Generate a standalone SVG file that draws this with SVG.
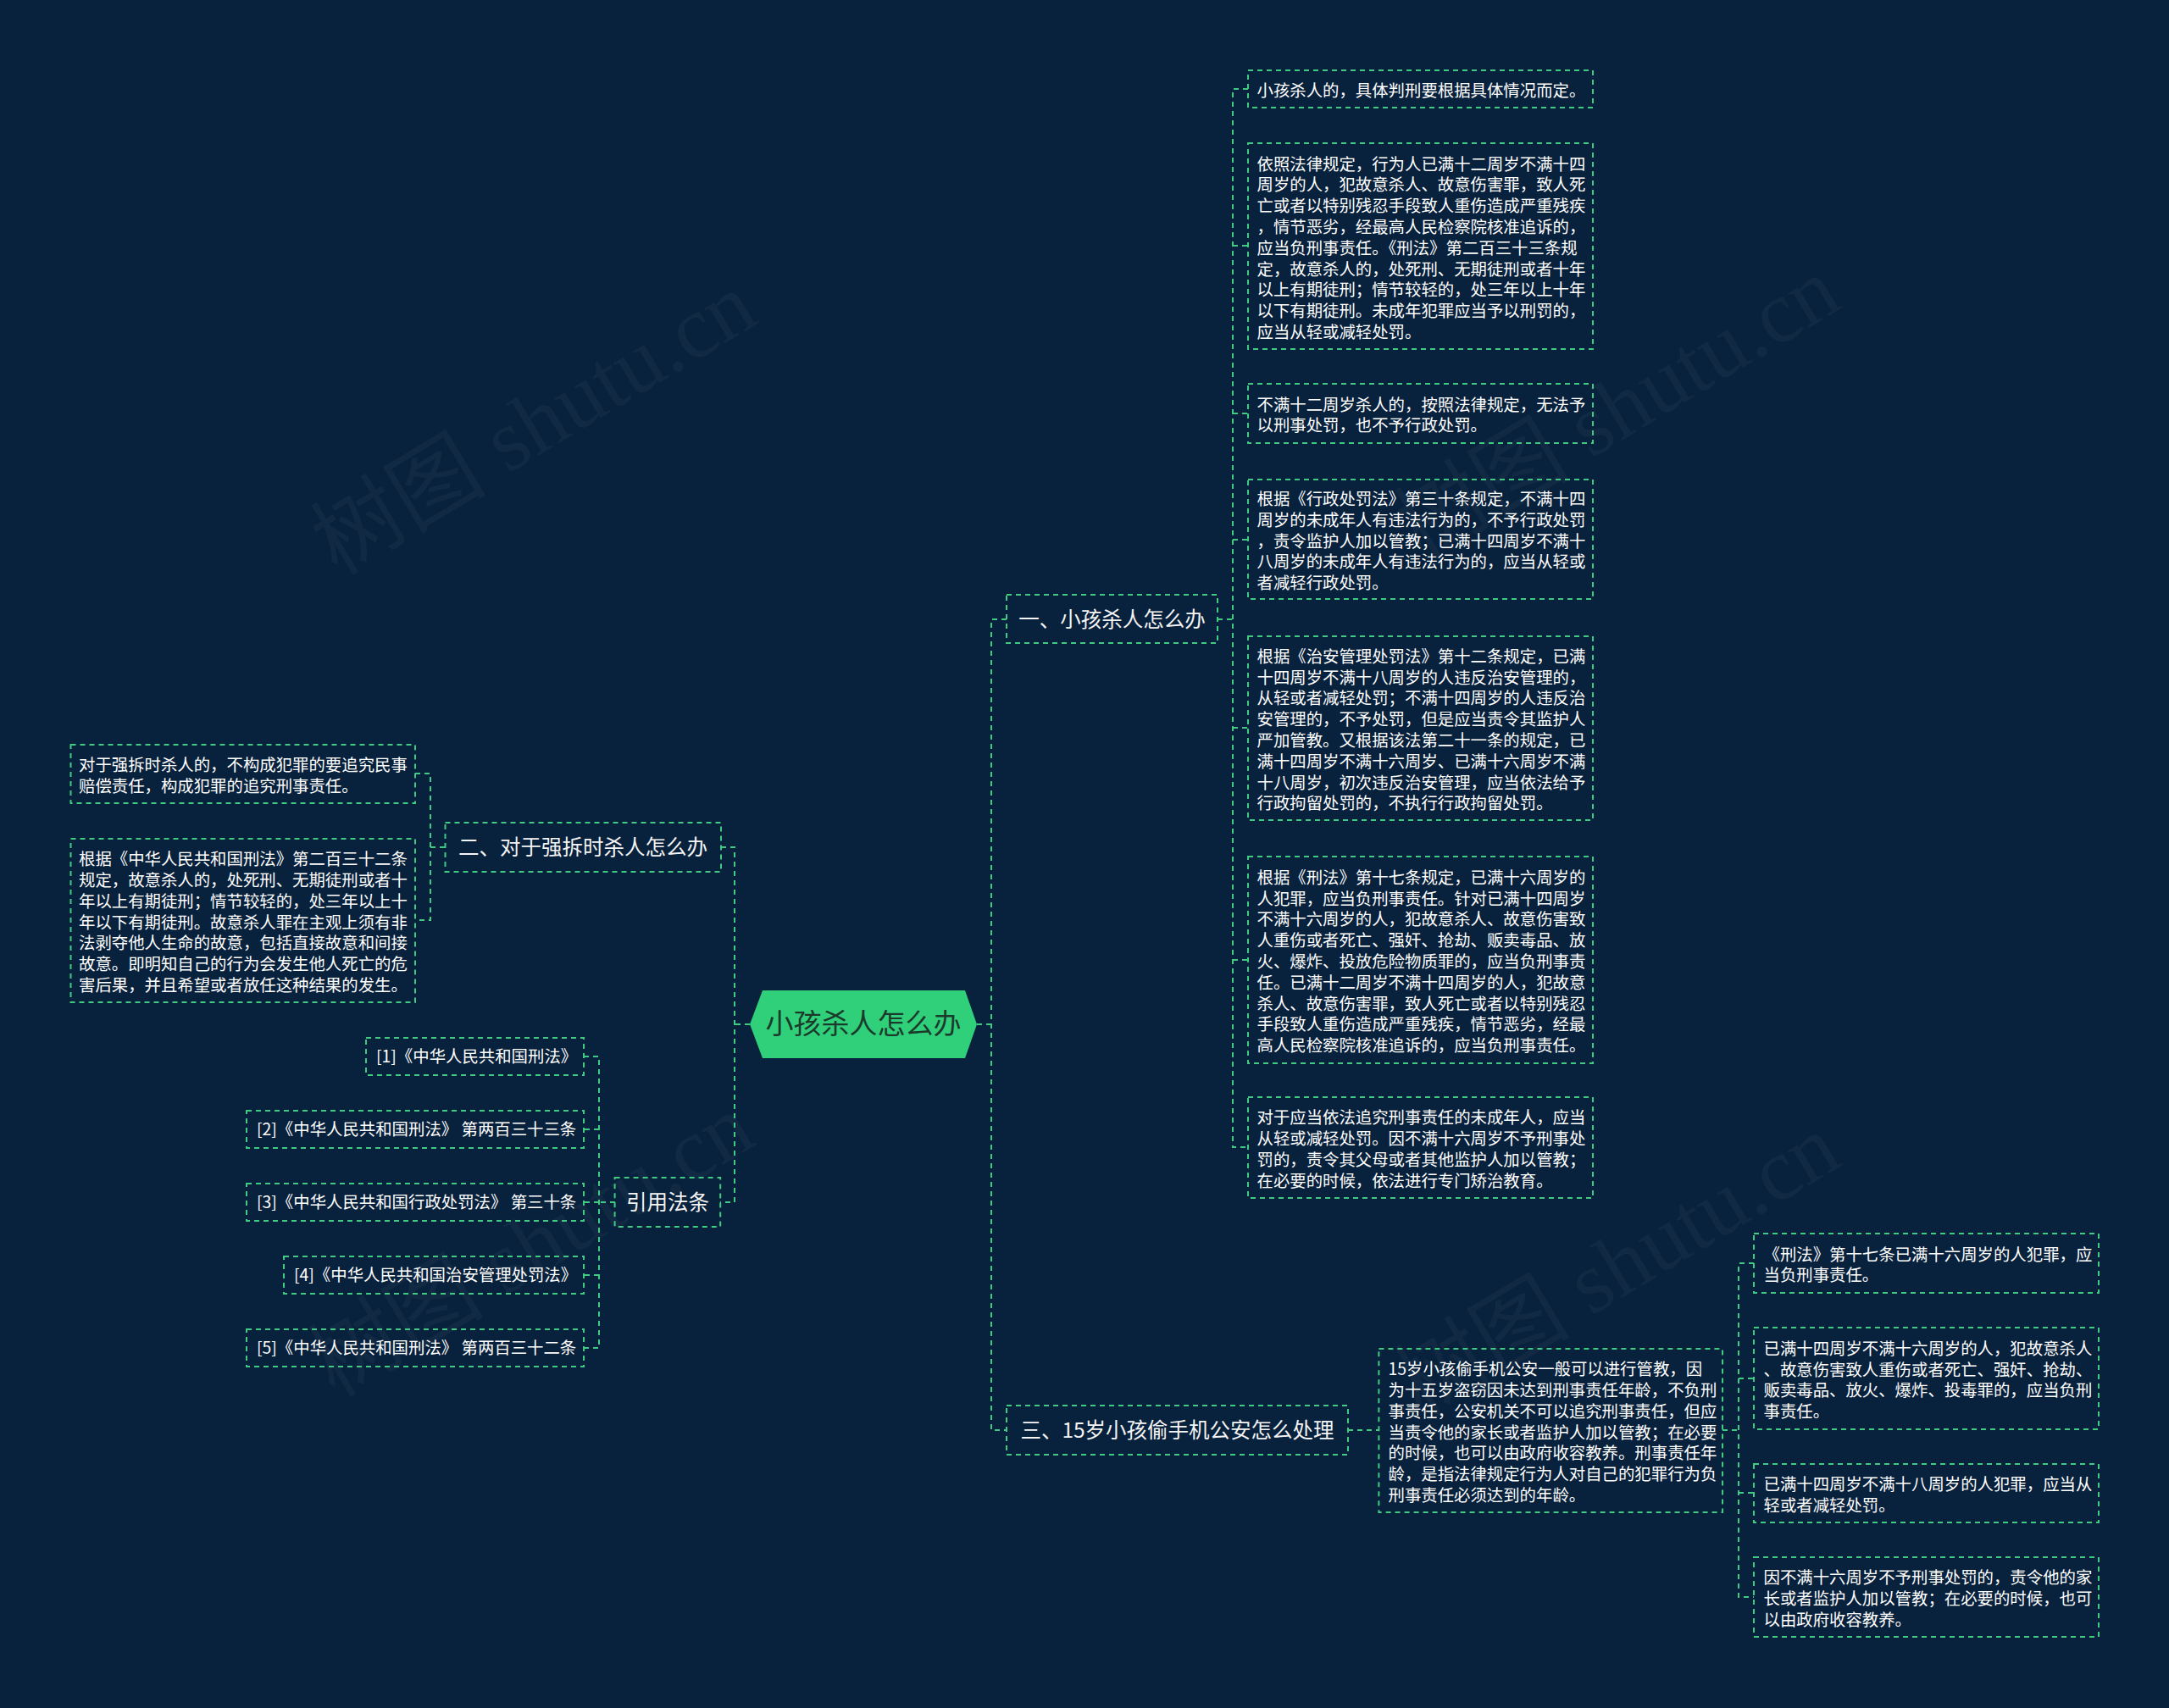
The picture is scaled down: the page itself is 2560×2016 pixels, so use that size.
<svg xmlns="http://www.w3.org/2000/svg" width="2560" height="2016" viewBox="0 0 2560 2016">
<defs>
<style>
.bg{fill:#08213c}
.box{fill:none;stroke:#3fcb82;stroke-width:2;stroke-dasharray:6 5}
.conn{fill:none;stroke:#3fcb82;stroke-width:2;stroke-dasharray:6 5}
.t{font-family:"Noto Sans CJK SC","Noto Sans",sans-serif;font-size:19.4px;fill:#ffffff}
.b{font-family:"Noto Sans CJK SC","Noto Sans",sans-serif;font-size:24.5px;fill:#f4f4f4;text-anchor:middle}
.c{font-family:"Noto Sans CJK SC","Noto Sans",sans-serif;font-size:33px;fill:#1b3a2b;text-anchor:middle}
.wm{font-family:"Liberation Serif","Noto Sans CJK SC",serif;font-size:104px;fill:#ffffff;fill-opacity:0.04}
</style>
</defs>
<rect class="bg" x="0" y="0" width="2560" height="2016"/>
<g id="watermarks">
<text class="wm" transform="translate(648,530) rotate(-31)" text-anchor="middle">树图 shutu.cn</text>
<text class="wm" transform="translate(1927,512) rotate(-31)" text-anchor="middle">树图 shutu.cn</text>
<text class="wm" transform="translate(645,1500) rotate(-31)" text-anchor="middle">树图 shutu.cn</text>
<text class="wm" transform="translate(1927,1524) rotate(-31)" text-anchor="middle">树图 shutu.cn</text>
</g>
<g id="connectors">
<path class="conn" d="M1153,1209 H1170 M1188,731 H1170 V1688 H1188"/>
<path class="conn" d="M885,1209 H867 M851,1000 H867 V1419 H850"/>
<path class="conn" d="M1437,731 H1455 M1473,105 H1455 V1354 H1473 M1455,290 H1473 M1455,488 H1473 M1455,637 H1473 M1455,859 H1473 M1455,1133 H1473"/>
<path class="conn" d="M525,1000 H508 M490,913 H508 V1086 H490"/>
<path class="conn" d="M726,1419 H707 M689,1247 H707 V1591 H689 M707,1333 H689 M707,1419 H689 M707,1505 H689"/>
<path class="conn" d="M1591,1688 H1627"/>
<path class="conn" d="M2033,1688 H2052 M2070,1491 H2052 V1885 H2070 M2052,1627 H2070 M2052,1762 H2070"/>
</g>
<g id="center">
<polygon points="885,1209 900,1169 1139,1169 1153,1209 1139,1249 900,1249" fill="#30d07b"/>
<text class="c" x="1019" y="1220">小孩杀人怎么办</text>
</g>
<g id="branch1">
<rect class="box" x="1188" y="702" width="249" height="57"/>
<text class="b" x="1312.5" y="739.5">一、小孩杀人怎么办</text>
</g>
<g id="branch2">
<rect class="box" x="525.5" y="971" width="325.5" height="58"/>
<text class="b" x="688" y="1008.5">二、对于强拆时杀人怎么办</text>
</g>
<g id="branch-cite">
<rect class="box" x="725.6" y="1390" width="124.6" height="58"/>
<text class="b" x="788" y="1427.5">引用法条</text>
</g>
<g id="branch3">
<rect class="box" x="1188" y="1659" width="403" height="58"/>
<text class="b" x="1389.5" y="1697">三、15岁小孩偷手机公安怎么处理</text>
</g>
<g id="leaf1-1">
<rect class="box" x="1473" y="83" width="407" height="44"/>
<text class="t" x="1483.5" y="114">小孩杀人的，具体判刑要根据具体情况而定。</text>
</g>
<g id="leaf1-2">
<rect class="box" x="1473" y="169" width="407" height="243"/>
<text class="t" x="1483.5" y="200.5">依照法律规定，行为人已满十二周岁不满十四<tspan x="1483.5" dy="24.8">周岁的人，犯故意杀人、故意伤害罪，致人死</tspan><tspan x="1483.5" dy="24.8">亡或者以特别残忍手段致人重伤造成严重残疾</tspan><tspan x="1483.5" dy="24.8">，情节恶劣，经最高人民检察院核准追诉的，</tspan><tspan x="1483.5" dy="24.8">应当负刑事责任。《刑法》第二百三十三条规</tspan><tspan x="1483.5" dy="24.8">定，故意杀人的，处死刑、无期徒刑或者十年</tspan><tspan x="1483.5" dy="24.8">以上有期徒刑；情节较轻的，处三年以上十年</tspan><tspan x="1483.5" dy="24.8">以下有期徒刑。未成年犯罪应当予以刑罚的，</tspan><tspan x="1483.5" dy="24.8">应当从轻或减轻处罚。</tspan></text>
</g>
<g id="leaf1-3">
<rect class="box" x="1473" y="453" width="407" height="70"/>
<text class="t" x="1483.5" y="484.6">不满十二周岁杀人的，按照法律规定，无法予<tspan x="1483.5" dy="24.8">以刑事处罚，也不予行政处罚。</tspan></text>
</g>
<g id="leaf1-4">
<rect class="box" x="1473" y="566" width="407" height="141"/>
<text class="t" x="1483.5" y="595.9">根据《行政处罚法》第三十条规定，不满十四<tspan x="1483.5" dy="24.8">周岁的未成年人有违法行为的，不予行政处罚</tspan><tspan x="1483.5" dy="24.8">，责令监护人加以管教；已满十四周岁不满十</tspan><tspan x="1483.5" dy="24.8">八周岁的未成年人有违法行为的，应当从轻或</tspan><tspan x="1483.5" dy="24.8">者减轻行政处罚。</tspan></text>
</g>
<g id="leaf1-5">
<rect class="box" x="1473" y="751" width="407" height="217"/>
<text class="t" x="1483.5" y="781.7">根据《治安管理处罚法》第十二条规定，已满<tspan x="1483.5" dy="24.8">十四周岁不满十八周岁的人违反治安管理的，</tspan><tspan x="1483.5" dy="24.8">从轻或者减轻处罚；不满十四周岁的人违反治</tspan><tspan x="1483.5" dy="24.8">安管理的，不予处罚，但是应当责令其监护人</tspan><tspan x="1483.5" dy="24.8">严加管教。又根据该法第二十一条的规定，已</tspan><tspan x="1483.5" dy="24.8">满十四周岁不满十六周岁、已满十六周岁不满</tspan><tspan x="1483.5" dy="24.8">十八周岁，初次违反治安管理，应当依法给予</tspan><tspan x="1483.5" dy="24.8">行政拘留处罚的，不执行行政拘留处罚。</tspan></text>
</g>
<g id="leaf1-6">
<rect class="box" x="1473" y="1011" width="407" height="244"/>
<text class="t" x="1483.5" y="1042.8">根据《刑法》第十七条规定，已满十六周岁的<tspan x="1483.5" dy="24.8">人犯罪，应当负刑事责任。针对已满十四周岁</tspan><tspan x="1483.5" dy="24.8">不满十六周岁的人，犯故意杀人、故意伤害致</tspan><tspan x="1483.5" dy="24.8">人重伤或者死亡、强奸、抢劫、贩卖毒品、放</tspan><tspan x="1483.5" dy="24.8">火、爆炸、投放危险物质罪的，应当负刑事责</tspan><tspan x="1483.5" dy="24.8">任。已满十二周岁不满十四周岁的人，犯故意</tspan><tspan x="1483.5" dy="24.8">杀人、故意伤害罪，致人死亡或者以特别残忍</tspan><tspan x="1483.5" dy="24.8">手段致人重伤造成严重残疾，情节恶劣，经最</tspan><tspan x="1483.5" dy="24.8">高人民检察院核准追诉的，应当负刑事责任。</tspan></text>
</g>
<g id="leaf1-7">
<rect class="box" x="1473" y="1295" width="407" height="119"/>
<text class="t" x="1483.5" y="1326.3">对于应当依法追究刑事责任的未成年人，应当<tspan x="1483.5" dy="24.8">从轻或减轻处罚。因不满十六周岁不予刑事处</tspan><tspan x="1483.5" dy="24.8">罚的，责令其父母或者其他监护人加以管教；</tspan><tspan x="1483.5" dy="24.8">在必要的时候，依法进行专门矫治教育。</tspan></text>
</g>
<g id="leaf2-1">
<rect class="box" x="83.5" y="879" width="406.5" height="69"/>
<text class="t" x="93" y="910.1">对于强拆时杀人的，不构成犯罪的要追究民事<tspan x="93" dy="24.8">赔偿责任，构成犯罪的追究刑事责任。</tspan></text>
</g>
<g id="leaf2-2">
<rect class="box" x="83.5" y="990" width="406.5" height="193"/>
<text class="t" x="93" y="1021.1">根据《中华人民共和国刑法》第二百三十二条<tspan x="93" dy="24.8">规定，故意杀人的，处死刑、无期徒刑或者十</tspan><tspan x="93" dy="24.8">年以上有期徒刑；情节较轻的，处三年以上十</tspan><tspan x="93" dy="24.8">年以下有期徒刑。故意杀人罪在主观上须有非</tspan><tspan x="93" dy="24.8">法剥夺他人生命的故意，包括直接故意和间接</tspan><tspan x="93" dy="24.8">故意。即明知自己的行为会发生他人死亡的危</tspan><tspan x="93" dy="24.8">害后果，并且希望或者放任这种结果的发生。</tspan></text>
</g>
<g id="cite1">
<rect class="box" x="432" y="1225" width="257" height="44"/>
<text class="t" x="444" y="1254">[1]《中华人民共和国刑法》</text>
</g>
<g id="cite2">
<rect class="box" x="291" y="1311" width="398" height="44"/>
<text class="t" x="303" y="1340">[2]《中华人民共和国刑法》 第两百三十三条</text>
</g>
<g id="cite3">
<rect class="box" x="291" y="1397" width="398" height="44"/>
<text class="t" x="303" y="1426">[3]《中华人民共和国行政处罚法》 第三十条</text>
</g>
<g id="cite4">
<rect class="box" x="335" y="1483" width="354" height="44"/>
<text class="t" x="347" y="1512">[4]《中华人民共和国治安管理处罚法》</text>
</g>
<g id="cite5">
<rect class="box" x="291" y="1569" width="398" height="44"/>
<text class="t" x="303" y="1598">[5]《中华人民共和国刑法》 第两百三十二条</text>
</g>
<g id="leaf3-main">
<rect class="box" x="1627.4" y="1592" width="405.6" height="193"/>
<text class="t" x="1638.5" y="1623.1">15岁小孩偷手机公安一般可以进行管教，因<tspan x="1638.5" dy="24.8">为十五岁盗窃因未达到刑事责任年龄，不负刑</tspan><tspan x="1638.5" dy="24.8">事责任，公安机关不可以追究刑事责任，但应</tspan><tspan x="1638.5" dy="24.8">当责令他的家长或者监护人加以管教；在必要</tspan><tspan x="1638.5" dy="24.8">的时候，也可以由政府收容教养。刑事责任年</tspan><tspan x="1638.5" dy="24.8">龄，是指法律规定行为人对自己的犯罪行为负</tspan><tspan x="1638.5" dy="24.8">刑事责任必须达到的年龄。</tspan></text>
</g>
<g id="leaf3-1">
<rect class="box" x="2070" y="1456" width="407" height="70"/>
<text class="t" x="2081.5" y="1487.6">《刑法》第十七条已满十六周岁的人犯罪，应<tspan x="2081.5" dy="24.8">当负刑事责任。</tspan></text>
</g>
<g id="leaf3-2">
<rect class="box" x="2070" y="1567" width="407" height="120"/>
<text class="t" x="2081.5" y="1598.8">已满十四周岁不满十六周岁的人，犯故意杀人<tspan x="2081.5" dy="24.8">、故意伤害致人重伤或者死亡、强奸、抢劫、</tspan><tspan x="2081.5" dy="24.8">贩卖毒品、放火、爆炸、投毒罪的，应当负刑</tspan><tspan x="2081.5" dy="24.8">事责任。</tspan></text>
</g>
<g id="leaf3-3">
<rect class="box" x="2070" y="1728" width="407" height="69"/>
<text class="t" x="2081.5" y="1759.4">已满十四周岁不满十八周岁的人犯罪，应当从<tspan x="2081.5" dy="24.8">轻或者减轻处罚。</tspan></text>
</g>
<g id="leaf3-4">
<rect class="box" x="2070" y="1838" width="407" height="94"/>
<text class="t" x="2081.5" y="1869.2">因不满十六周岁不予刑事处罚的，责令他的家<tspan x="2081.5" dy="24.8">长或者监护人加以管教；在必要的时候，也可</tspan><tspan x="2081.5" dy="24.8">以由政府收容教养。</tspan></text>
</g>
</svg>
